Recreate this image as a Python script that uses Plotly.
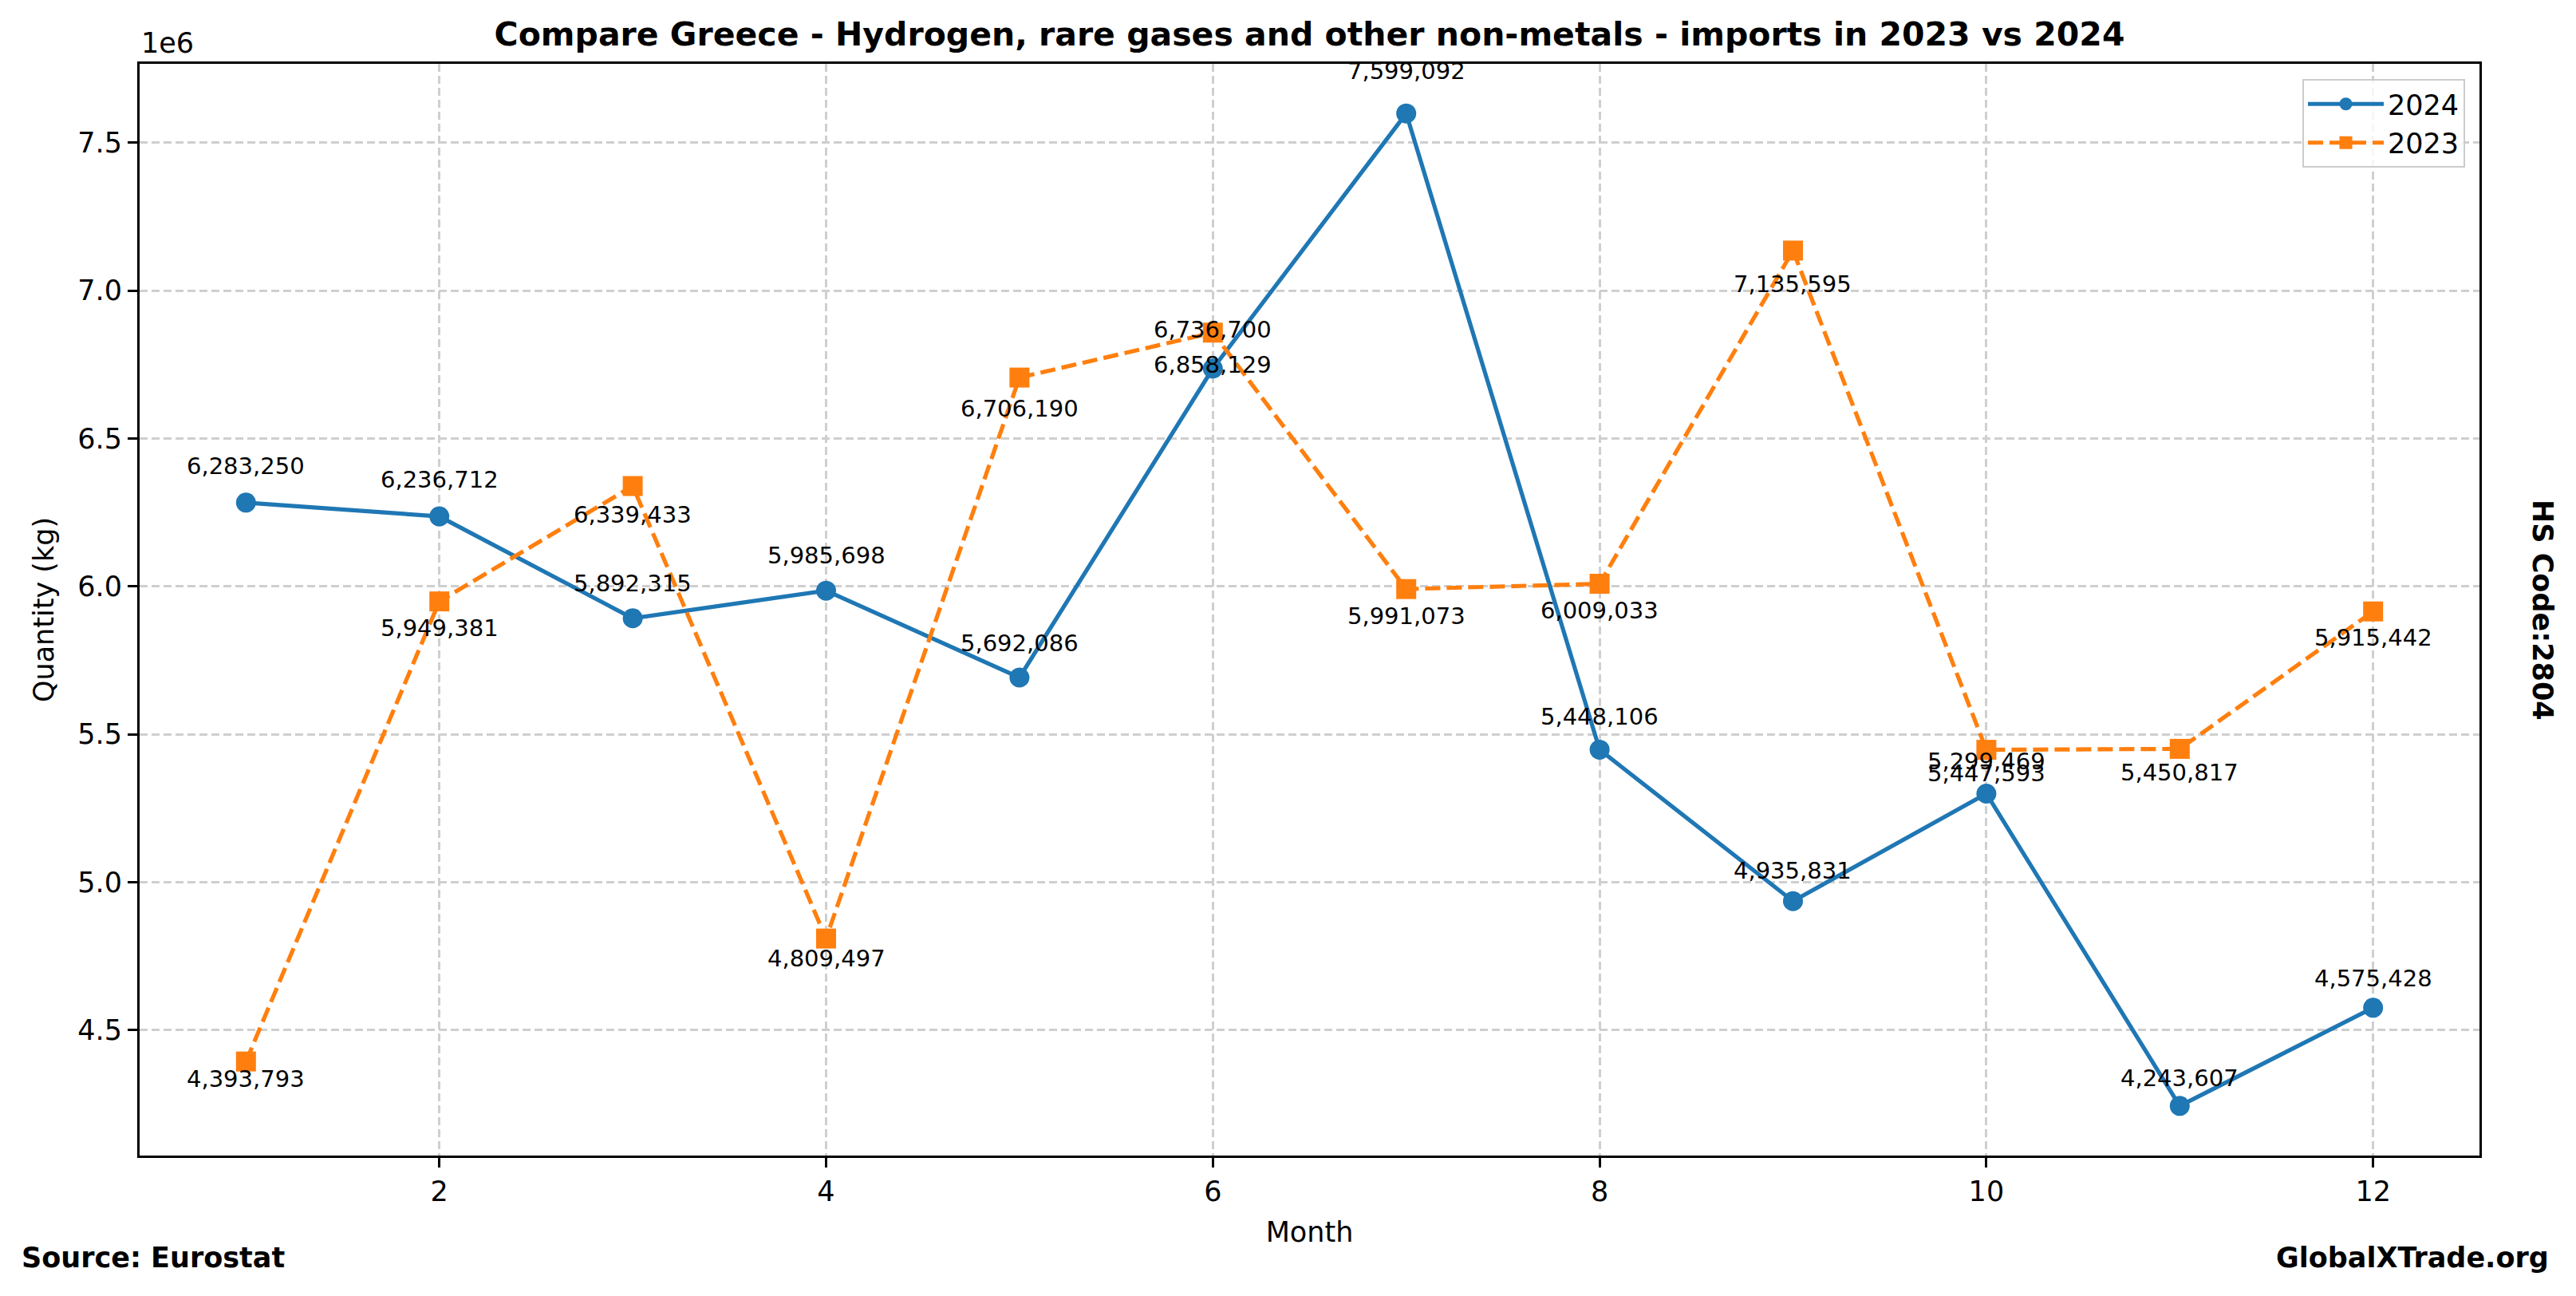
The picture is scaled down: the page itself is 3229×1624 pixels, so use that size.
import plotly.graph_objects as go

months = [1, 2, 3, 4, 5, 6, 7, 8, 9, 10, 11, 12]
values_2024 = [6283250, 6236712, 5892315, 5985698, 5692086, 6736700,
               7599092, 5448106, 4935831, 5299469, 4243607, 4575428]
values_2023 = [4393793, 5949381, 6339433, 4809497, 6706190, 6858129,
               5991073, 6009033, 7135595, 5447593, 5450817, 5915442]
x_ticks = [2, 4, 6, 8, 10, 12]
y_ticks = [4.5e6, 5.0e6, 5.5e6, 6.0e6, 6.5e6, 7.0e6, 7.5e6]
y_tick_labels = ["4.5", "5.0", "5.5", "6.0", "6.5", "7.0", "7.5"]

title = "Compare Greece - Hydrogen, rare gases and other non-metals - imports in 2023 vs 2024"
FONT = "DejaVu Sans"
BLUE = "#1f77b4"
ORANGE = "#ff7f0e"

# page body has an 8px margin; work in window pixels and convert
OFF = 8
WIN_W, WIN_H = 3229, 1624
W, H = WIN_W - OFF, WIN_H - OFF
PL, PR, PT, PB = 175, 3108, 80, 1448  # plot area in window pixels
L, T = PL - OFF, PT - OFF
R = W - (PR - OFF)
B = H - (PB - OFF)
pw = PR - PL
ph = PB - PT


def px(xw):
    return (xw - PL) / pw


def py(yw):
    return (PB - yw) / ph


fig = go.Figure()
fig.add_trace(go.Scatter(
    x=months, y=values_2024, name="2024", mode="lines+markers",
    line=dict(color=BLUE, width=5.2),
    marker=dict(symbol="circle", size=25, color=BLUE, line=dict(width=0)),
))
fig.add_trace(go.Scatter(
    x=months, y=values_2023, name="2023", mode="lines+markers",
    line=dict(color=ORANGE, width=5.2, dash="19px,8px"),
    marker=dict(symbol="square", size=25, color=ORANGE, line=dict(width=0)),
))

annotations = []
for m, v in zip(months, values_2024):
    annotations.append(dict(x=m, y=v * 1.015, xref="x", yref="y", text=f"{v:,}",
                            showarrow=False, xanchor="center", yanchor="middle", yshift=11,
                            font=dict(family=FONT, size=29, color="black")))
for m, v in zip(months, values_2023):
    annotations.append(dict(x=m, y=v * 0.98, xref="x", yref="y", text=f"{v:,}",
                            showarrow=False, xanchor="center", yanchor="middle", yshift=11,
                            font=dict(family=FONT, size=29, color="black")))

annotations.append(dict(x=0, y=1, xref="paper", yref="paper", text="1e6", showarrow=False,
                        xanchor="left", yanchor="bottom", yshift=4,
                        font=dict(family=FONT, size=35, color="black")))
annotations.append(dict(x=px(25), y=py(1576), xref="paper", yref="paper",
                        text="<b>Source: Eurostat</b>", showarrow=False,
                        xanchor="left", yanchor="middle",
                        font=dict(family=FONT, size=35, color="black")))
annotations.append(dict(x=px(3197), y=py(1576), xref="paper", yref="paper",
                        text="<b>GlobalXTrade.org</b>", showarrow=False,
                        xanchor="right", yanchor="middle",
                        font=dict(family=FONT, size=35, color="black")))
annotations.append(dict(x=px(3187), y=0.5, xref="paper", yref="paper",
                        text="<b>HS Code:2804</b>", showarrow=False, textangle=90,
                        xanchor="center", yanchor="middle",
                        font=dict(family=FONT, size=35, color="black")))

ymin = min(min(values_2024), min(values_2023))
ymax = max(max(values_2024), max(values_2023))
pad = (ymax - ymin) * 0.05

axis_common = dict(
    showline=True, linecolor="black", linewidth=3, mirror=True,
    ticks="outside", ticklen=12, tickwidth=3, tickcolor="black",
    showgrid=True, gridcolor="#cfcfcf", gridwidth=2.5, griddash="10px,5px",
    zeroline=False, tickfont=dict(family=FONT, size=35, color="black"),
)

fig.update_layout(
    width=W, height=H, autosize=False,
    margin=dict(l=L, r=R, t=T, b=B),
    paper_bgcolor="white", plot_bgcolor="white",
    font=dict(family=FONT, size=35, color="black"),
    title=dict(text=f"<b>{title}</b>", x=(L + pw / 2) / W, xanchor="center",
               y=1 - (43 - OFF) / H, yanchor="middle",
               font=dict(family=FONT, size=41, color="black")),
    xaxis=dict(range=[0.45, 12.55], tickvals=x_ticks,
               title=dict(text="Month", standoff=20, font=dict(family=FONT, size=35)),
               **axis_common),
    yaxis=dict(range=[ymin - pad, ymax + pad], tickvals=y_ticks, ticktext=y_tick_labels,
               title=dict(text="Quantity (kg)", standoff=20, font=dict(family=FONT, size=35)),
               **axis_common),
    legend=dict(x=px(3090), y=py(99), xanchor="right", yanchor="top",
                bgcolor="rgba(255,255,255,0.8)", bordercolor="#cccccc", borderwidth=2,
                itemwidth=95,
                font=dict(family=FONT, size=35, color="black")),
    annotations=annotations,
    showlegend=True,
)

fig.write_html("out.html")
